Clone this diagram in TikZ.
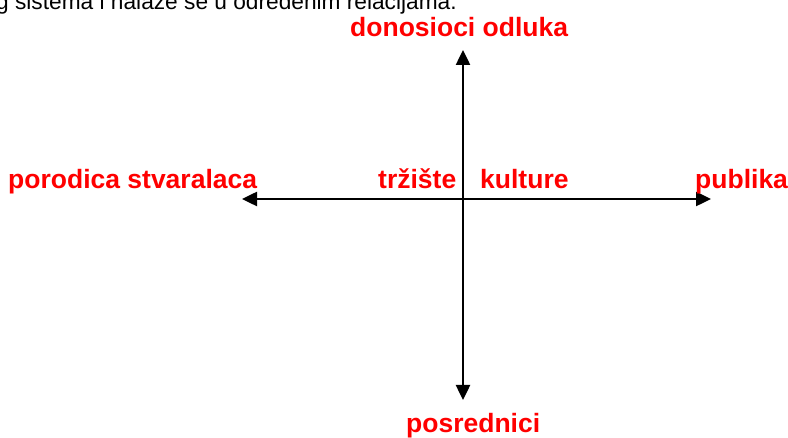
\documentclass[tikz,border=0pt]{standalone}
\usepackage{fontspec}
\setmainfont{Liberation Sans}
\usetikzlibrary{arrows.meta}
\definecolor{lblred}{RGB}{255,0,0}
\tikzset{
  lbl/.style={text=lblred, font=\fontsize{26.5}{30}\selectfont\bfseries, inner sep=0pt, anchor=base west},
  toptext/.style={text=black, font=\fontsize{22.7}{26}\selectfont, inner sep=0pt, anchor=base west},
  axis/.style={line width=2.5pt, draw=black, -{Triangle[length=15pt,width=14pt]}}
}
\begin{document}
\begin{tikzpicture}[x=1pt,y=-1pt]
\useasboundingbox (0,0) rectangle (788,438);
\clip (0,0) rectangle (788,438);
\node[toptext] (head) at (-4,10) {g sistema i nalaze se u određenim relacijama.};
\coordinate (c) at (463,199);
\coordinate (top) at (463,50);
\coordinate (bot) at (463,400);
\coordinate (lft) at (242,199);
\coordinate (rgt) at (711,199);
\draw[axis] (c) -- (top);
\draw[axis] (c) -- (bot);
\draw[axis] (c) -- (lft);
\draw[axis] (c) -- (rgt);
\node[lbl] (don) at (350,37) {donosioci odluka};
\node[lbl] (por) at (8,189) {porodica stvaralaca};
\node[lbl] (trz) at (378,189) {tržište};
\node[lbl] (kul) at (480,189) {kulture};
\node[lbl] (pub) at (695,189) {publika};
\node[lbl] (pos) at (406,433) {posrednici};
\end{tikzpicture}
\end{document}
